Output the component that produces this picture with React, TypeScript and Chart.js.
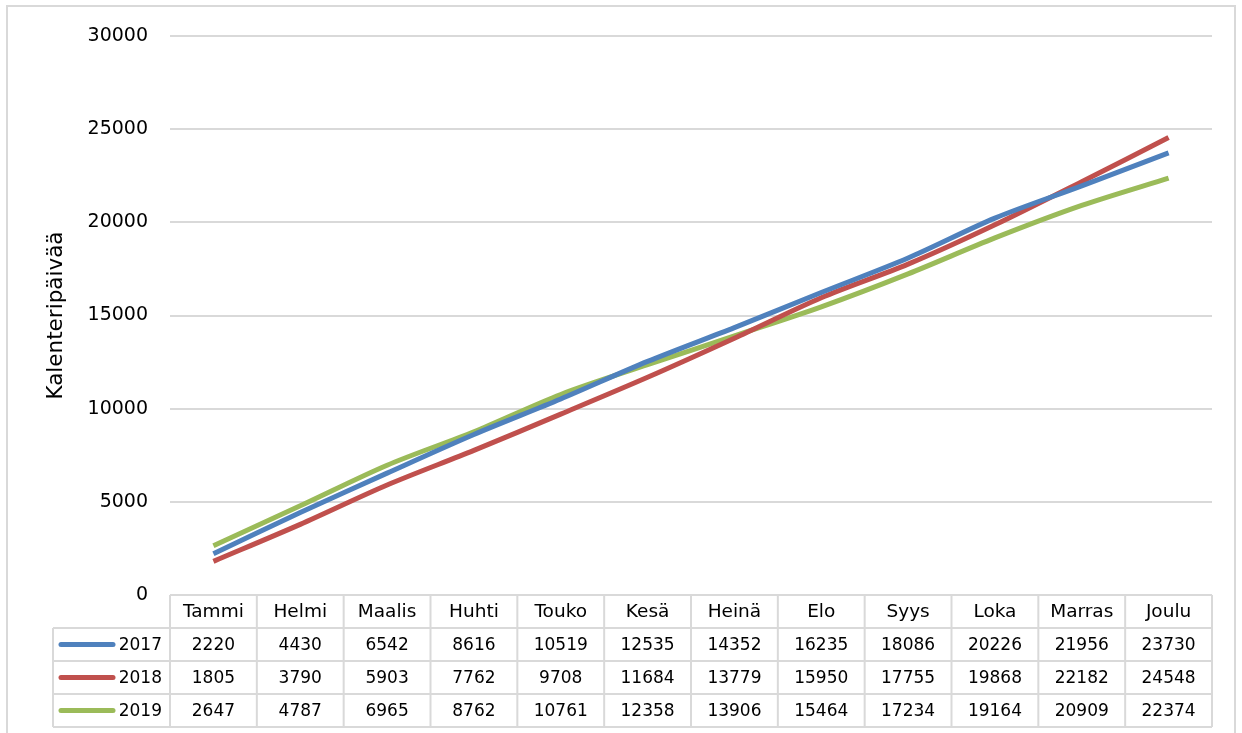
import React, { useEffect, useRef } from "react";
import { Chart, registerables } from "chart.js";

Chart.register(...registerables);

const months = ["Tammi", "Helmi", "Maalis", "Huhti", "Touko", "Kesä", "Heinä", "Elo", "Syys", "Loka", "Marras", "Joulu"];
const series2017 = [2220, 4430, 6542, 8616, 10519, 12535, 14352, 16235, 18086, 20226, 21956, 23730];
const series2018 = [1805, 3790, 5903, 7762, 9708, 11684, 13779, 15950, 17755, 19868, 22182, 24548];
const series2019 = [2647, 4787, 6965, 8762, 10761, 12358, 13906, 15464, 17234, 19164, 20909, 22374];
const seriesNames = ["2017", "2018", "2019"];
const seriesColors = ["#4F81BD", "#C0504D", "#9BBB59"];
const yTitle = "Kalenteripäivää";

const FONT = '"DejaVu Sans", sans-serif';
const GRID = "#d9d9d9";

export default function App() {
  const ref = useRef<HTMLCanvasElement | null>(null);
  useEffect(() => {
    if (!ref.current) return;
    const tablePlugin = {
      id: "tablePlugin",
      afterDraw(chart: any) {
        const ctx = chart.ctx as CanvasRenderingContext2D;
        const x = chart.scales.x;
        const area = chart.chartArea;
        const n = months.length;
        const colW = (area.right - area.left) / n;
        const top = area.bottom;
        const rowH = 33;
        const labelLeft = 53;
        ctx.save();
        // outer frame
        ctx.strokeStyle = GRID;
        ctx.lineWidth = 2;
        ctx.strokeRect(7, 6, 1228, 740);
        // table lines
        ctx.strokeStyle = GRID;
        ctx.lineWidth = 2;
        ctx.beginPath();
        ctx.moveTo(area.left, top);
        ctx.lineTo(area.right, top);
        for (let r = 1; r <= 4; r++) {
          ctx.moveTo(labelLeft, top + r * rowH);
          ctx.lineTo(area.right, top + r * rowH);
        }
        for (let c = 0; c <= n; c++) {
          const cx = area.left + c * colW;
          ctx.moveTo(cx, top);
          ctx.lineTo(cx, top + 4 * rowH);
        }
        ctx.moveTo(labelLeft, top + rowH);
        ctx.lineTo(labelLeft, top + 4 * rowH);
        ctx.stroke();
        // texts
        ctx.fillStyle = "#000";
        ctx.font = `18.5px ${FONT}`;
        ctx.textAlign = "center";
        ctx.textBaseline = "middle";
        for (let c = 0; c < n; c++) {
          const cx = x.getPixelForValue(c);
          ctx.fillText(months[c], cx, top + rowH / 2 + 1);
        }
        ctx.font = `17px ${FONT}`;
        const all = [series2017, series2018, series2019];
        for (let r = 0; r < all.length; r++) {
          const cy = top + (r + 1) * rowH + rowH / 2 + 1;
          for (let c = 0; c < n; c++) {
            ctx.fillText(String(all[r][c]), x.getPixelForValue(c), cy);
          }
          ctx.textAlign = "right";
          ctx.fillText(seriesNames[r], area.left - 8, cy);
          ctx.textAlign = "center";
          ctx.strokeStyle = seriesColors[r];
          ctx.lineWidth = 5;
          ctx.lineCap = "round";
          ctx.beginPath();
          ctx.moveTo(61, cy - 1);
          ctx.lineTo(113, cy - 1);
          ctx.stroke();
        }
        // y title
        ctx.save();
        ctx.translate(56, (area.top + area.bottom) / 2);
        ctx.rotate(-Math.PI / 2);
        ctx.fillStyle = "#000";
        ctx.font = `21.5px ${FONT}`;
        ctx.textAlign = "center";
        ctx.textBaseline = "middle";
        ctx.fillText(yTitle, 0, 0);
        ctx.restore();
        ctx.restore();
      },
    };
    const chart = new Chart(ref.current, {
      type: "line",
      data: {
        labels: months,
        datasets: [series2017, series2018, series2019].map((d, i) => ({
          label: seriesNames[i],
          data: d,
          borderColor: seriesColors[i],
          backgroundColor: seriesColors[i],
          borderWidth: 5,
          pointRadius: 0,
          tension: 0.3,
          fill: false,
        })),
      },
      options: {
        animation: false,
        responsive: false,
        devicePixelRatio: 1,
        layout: { padding: { left: 0, right: 30, top: 36, bottom: 138 } },
        plugins: { legend: { display: false }, tooltip: { enabled: false } },
        scales: {
          x: { type: "category", offset: true, display: false },
          y: {
            min: 0,
            max: 30000,
            ticks: {
              stepSize: 5000,
              padding: 22,
              color: "#000",
              font: { family: FONT, size: 19 },
              callback: (v: any) => String(v),
            },
            grid: { color: GRID, lineWidth: 2, drawTicks: false },
            border: { display: false },
            afterFit(s: any) {
              s.width = 170;
            },
          },
        },
      },
      plugins: [tablePlugin],
    });
    return () => chart.destroy();
  }, []);
  return (
    <div style={{ position: "fixed", left: 0, top: 0, width: 1242, height: 733, background: "#fff" }}>
      <canvas ref={ref} width={1242} height={733} />
    </div>
  );
}
